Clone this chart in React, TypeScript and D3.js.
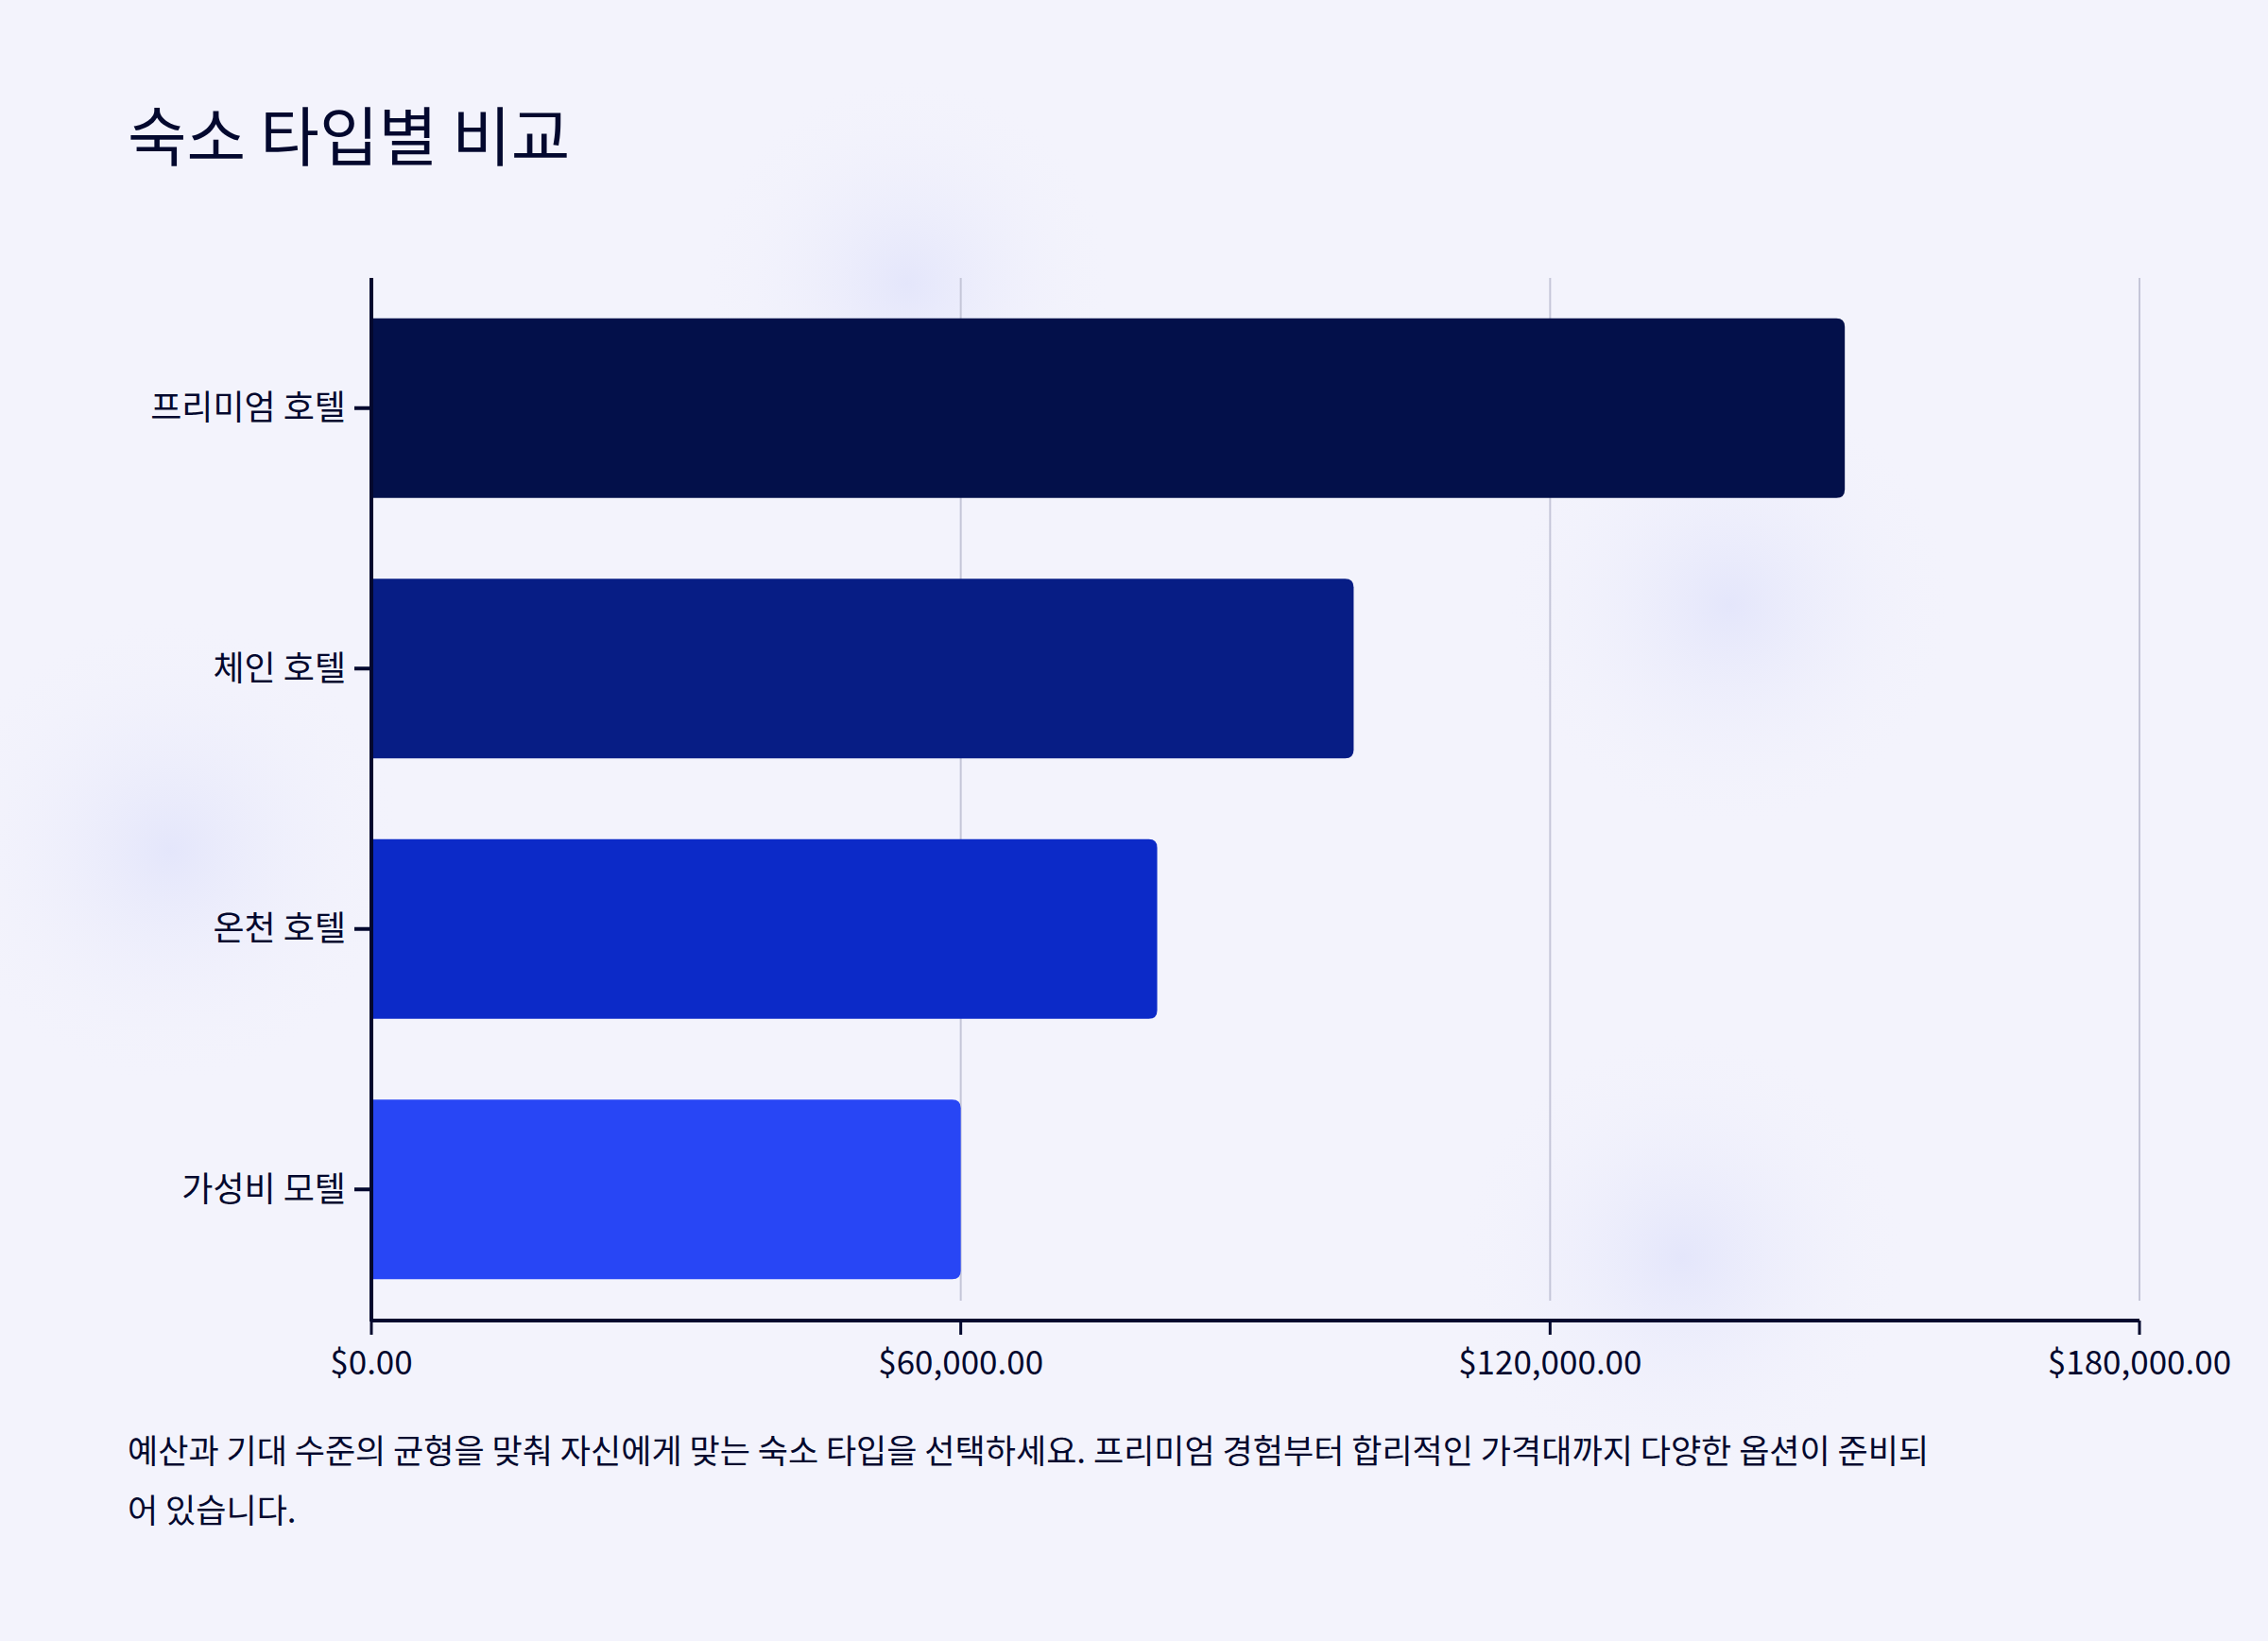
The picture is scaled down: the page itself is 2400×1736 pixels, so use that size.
import React from 'react';
import * as d3 from 'd3';

const categories = ['프리미엄 호텔', '체인 호텔', '온천 호텔', '가성비 모텔'];
const prices = [150000, 100000, 80000, 60000];
const colors = ['#03104a', '#071d85', '#0c2ac8', '#2846f5'];
const ticks = [0, 60000, 120000, 180000];
const caption = [
  '예산과 기대 수준의 균형을 맞춰 자신에게 맞는 숙소 타입을 선택하세요. 프리미엄 경험부터 합리적인 가격대까지 다양한 옵션이 준비되',
  '어 있습니다.',
];

const W = 2400;
const H = 1736;
const font = '"Noto Sans CJK KR", "Noto Sans", sans-serif';

const App: React.FC = () => {
  const x = d3.scaleLinear().domain([0, 180000]).range([393, 2264]);
  const y = d3.scaleBand<string>().domain(categories).range([294, 1396]).paddingInner(0.31).paddingOuter(0.155);
  const fmt = (v: number) => '$' + d3.format(',.2f')(v);
  const r = 9;

  const barPath = (x0: number, x1: number, y0: number, h: number) =>
    `M${x0},${y0}H${x1 - r}Q${x1},${y0} ${x1},${y0 + r}V${y0 + h - r}Q${x1},${y0 + h} ${x1 - r},${y0 + h}H${x0}Z`;

  return (
    <svg width={W} height={H} style={{ position: 'absolute', left: 0, top: 0, fontFamily: font }}>
      <defs>
        <radialGradient id="blob">
          <stop offset="0%" stopColor="#e4e6fb" stopOpacity={1} />
          <stop offset="100%" stopColor="#f3f3fc" stopOpacity={0} />
        </radialGradient>
      </defs>
      <rect width={W} height={H} fill="#f3f3fc" />
      <circle cx={180} cy={900} r={250} fill="url(#blob)" />
      <circle cx={960} cy={300} r={220} fill="url(#blob)" />
      <circle cx={1830} cy={640} r={240} fill="url(#blob)" />
      <circle cx={1780} cy={1330} r={240} fill="url(#blob)" />

      <text x={135} y={170} fontSize={68} fill="#03082e">숙소 타입별 비교</text>

      {ticks.slice(1).map(t => (
        <line key={t} x1={x(t)} x2={x(t)} y1={294} y2={1376} stroke="#c5c6d8" strokeWidth={2} />
      ))}

      {categories.map((c, i) => (
        <path key={c} d={barPath(x(0), x(prices[i]), y(c)!, y.bandwidth())} fill={colors[i]} />
      ))}

      <line x1={x(0)} x2={x(0)} y1={294} y2={1398} stroke="#03082e" strokeWidth={4} />
      <line x1={x(0)} x2={x(180000)} y1={1397} y2={1397} stroke="#03082e" strokeWidth={4} />
      {ticks.map(t => (
        <g key={t}>
          <line x1={x(t)} x2={x(t)} y1={1397} y2={1412} stroke="#03082e" strokeWidth={3} />
          <text x={x(t)} y={1454} fontSize={35} textAnchor="middle" fill="#03082e">{fmt(t)}</text>
        </g>
      ))}
      {categories.map(c => {
        const cy = y(c)! + y.bandwidth() / 2;
        return (
          <g key={c}>
            <line x1={375} x2={393} y1={cy} y2={cy} stroke="#03082e" strokeWidth={4} />
            <text x={366} y={cy} dy="0.35em" fontSize={36} textAnchor="end" fill="#03082e">{c}</text>
          </g>
        );
      })}

      {caption.map((line, i) => (
        <text key={i} x={135} y={1548 + i * 63} fontSize={35} fill="#03082e">{line}</text>
      ))}
    </svg>
  );
};

export default App;
